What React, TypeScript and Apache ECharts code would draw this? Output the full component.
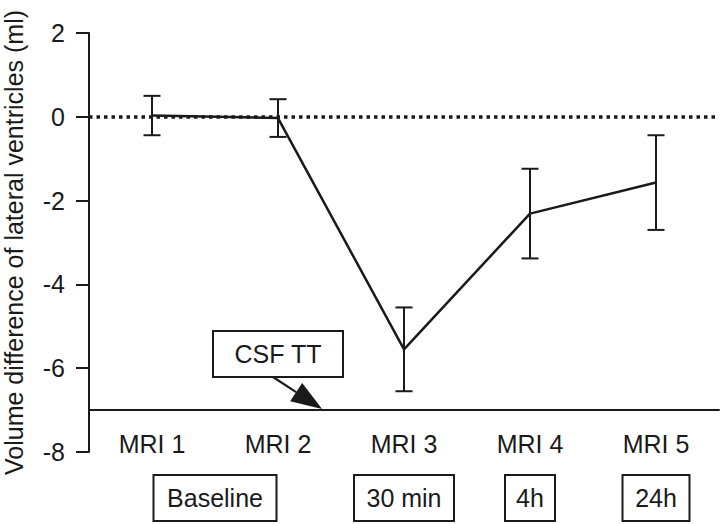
import React, { useEffect, useRef } from "react";
import * as echarts from "echarts";

const categories = ["MRI 1", "MRI 2", "MRI 3", "MRI 4", "MRI 5"];
const meanValues = [0.03, -0.03, -5.55, -2.31, -1.57];
const errorValues = [0.47, 0.45, 1.0, 1.07, 1.13];
const yTicks = { min: -8, max: 2, interval: 2 };
const phaseLabels = ["Baseline", "30 min", "4h", "24h"];
// category span each phase label sits under: [from, to]
const phaseSpans = [[0, 1], [2, 2], [3, 3], [4, 4]];
const phaseBoxWidths = [123, 100, 50, 67];
const annotationText = "CSF TT";
const annotationTarget = { between: [1, 2], frac: 0.35, value: -7 };

const FONT = "Liberation Sans, Arial, Helvetica, sans-serif";
const INK = "#1a1a1a";
const FS = 25;

export default function App() {
  const ref = useRef<HTMLDivElement>(null);
  useEffect(() => {
    if (!ref.current) return;
    const chart = echarts.init(ref.current, null, { renderer: "svg" });
    const gridTop = 33;
    const gridHeight = 419;
    const axisOffset = -(gridHeight / (yTicks.max - yTicks.min)) * (annotationTarget.value - yTicks.min);

    const errData = categories.map((c, i) => [i, meanValues[i] - errorValues[i], meanValues[i] + errorValues[i]]);

    chart.setOption({
      animation: false,
      grid: {
        left: 89,
        top: gridTop,
        width: 630,
        height: gridHeight,
        containLabel: false,
        outerBoundsMode: "none",
      },
      xAxis: {
        type: "category",
        data: categories,
        boundaryGap: true,
        offset: axisOffset,
        axisLine: { onZero: false, lineStyle: { color: INK, width: 2 } },
        axisTick: { alignWithLabel: true, length: 10, lineStyle: { color: INK, width: 2 } },
        axisLabel: { margin: 21, fontSize: FS, color: INK, fontFamily: FONT },
        splitLine: { show: false },
      },
      yAxis: {
        type: "value",
        min: yTicks.min,
        max: yTicks.max,
        interval: yTicks.interval,
        name: "Volume difference of lateral ventricles (ml)",
        nameLocation: "middle",
        nameGap: 63,
        nameMoveOverlap: false,
        nameTextStyle: { fontSize: 25, color: INK, fontFamily: FONT },
        axisLine: { show: true, lineStyle: { color: INK, width: 2 } },
        axisTick: { show: true, length: 13, lineStyle: { color: INK, width: 2 } },
        axisLabel: { margin: 24, fontSize: FS, color: INK, fontFamily: FONT },
        splitLine: { show: false },
      },
      series: [
        {
          type: "line",
          data: meanValues,
          symbol: "none",
          lineStyle: { color: INK, width: 2.5 },
          z: 3,
          markLine: {
            silent: true,
            symbol: "none",
            label: { show: false },
            lineStyle: { color: INK, type: [3.5, 4], width: 3.5 },
            data: [{ yAxis: 0 }],
          },
        },
        {
          type: "custom",
          data: errData,
          z: 4,
          renderItem: (params: any, api: any) => {
            const x = api.value(0);
            const lo = api.coord([x, api.value(1)]);
            const hi = api.coord([x, api.value(2)]);
            const hw = 8.5;
            const style = { stroke: INK, lineWidth: 2 };
            return {
              type: "group",
              children: [
                { type: "line", shape: { x1: lo[0], y1: lo[1], x2: hi[0], y2: hi[1] }, style },
                { type: "line", shape: { x1: lo[0] - hw, y1: lo[1], x2: lo[0] + hw, y2: lo[1] }, style },
                { type: "line", shape: { x1: hi[0] - hw, y1: hi[1], x2: hi[0] + hw, y2: hi[1] }, style },
              ],
            };
          },
        },
      ],
    });

    // annotations positioned from the axes
    const px = (i: number) => chart.convertToPixel({ xAxisIndex: 0 }, categories[i]) as number;
    const py = (v: number) => chart.convertToPixel({ yAxisIndex: 0 }, v) as number;
    const graphics: any[] = [];
    const boxTop = 475;
    const boxH = 46;
    phaseLabels.forEach((lab, k) => {
      const [a, b] = phaseSpans[k];
      const cx = (px(a) + px(b)) / 2;
      const w = phaseBoxWidths[k];
      graphics.push({
        type: "rect",
        shape: { x: cx - w / 2, y: boxTop, width: w, height: boxH },
        style: { fill: "#fff", stroke: INK, lineWidth: 2 },
      });
      graphics.push({
        type: "text",
        x: cx,
        y: boxTop + boxH / 2,
        style: { text: lab, fontSize: FS, fill: INK, fontFamily: FONT, align: "center", verticalAlign: "middle" },
      });
    });

    const [ia, ib] = annotationTarget.between;
    const tipX = px(ia) + (px(ib) - px(ia)) * annotationTarget.frac;
    const tipY = py(annotationTarget.value) - 1;
    const bx = 213, by = 331, bw = 130, bh = 46;
    const start = [273, by + bh];
    const dx = tipX - start[0], dy = tipY - start[1];
    const len = Math.sqrt(dx * dx + dy * dy);
    const ux = dx / len, uy = dy / len;
    const headLen = 31, headHalf = 11;
    const baseX = tipX - ux * headLen, baseY = tipY - uy * headLen;
    graphics.push({
      type: "line",
      shape: { x1: start[0], y1: start[1], x2: baseX, y2: baseY },
      style: { stroke: INK, lineWidth: 2.2 },
    });
    graphics.push({
      type: "polygon",
      shape: {
        points: [
          [tipX, tipY],
          [baseX - uy * headHalf, baseY + ux * headHalf],
          [baseX + uy * headHalf, baseY - ux * headHalf],
        ],
      },
      style: { fill: INK },
    });
    graphics.push({
      type: "rect",
      shape: { x: bx, y: by, width: bw, height: bh },
      style: { fill: "#fff", stroke: INK, lineWidth: 2 },
    });
    graphics.push({
      type: "text",
      x: bx + bw / 2,
      y: by + bh / 2,
      style: { text: annotationText, fontSize: FS, fill: INK, fontFamily: FONT, align: "center", verticalAlign: "middle" },
    });

    chart.setOption({ graphic: graphics });
    return () => chart.dispose();
  }, []);
  return (
    <div
      ref={ref}
      style={{ position: "absolute", left: 0, top: 0, width: 722, height: 524, background: "#fff" }}
    />
  );
}
